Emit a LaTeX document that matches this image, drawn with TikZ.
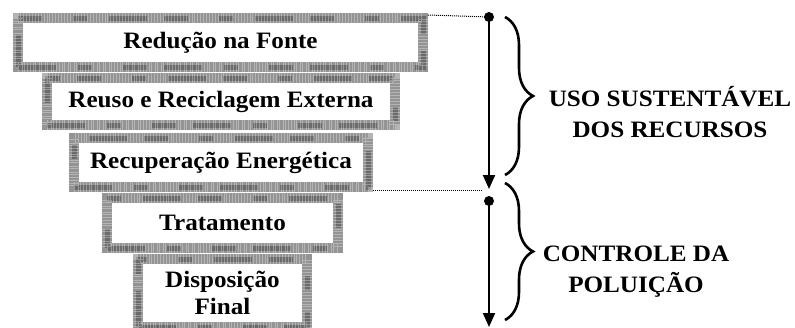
\documentclass[tikz,border=0pt]{standalone}
\usepackage{fontspec}
\setmainfont{Liberation Serif}[FakeStretch=1.07]
\usetikzlibrary{arrows.meta,decorations.pathreplacing}
\begin{document}
\begin{tikzpicture}[x=1pt,y=-1pt,
  tier/.style={draw=black!42, line width=10pt, fill=white, inner sep=0pt,
    font=\fontsize{23.5}{27}\selectfont\bfseries, align=center,
    postaction={draw=black!58, line width=5pt,
      dash pattern=on 38pt off 22pt on 14pt off 31pt on 24pt off 17pt},
    postaction={draw=white, opacity=0.3, line width=10pt,
      dash pattern=on 1pt off 2.5pt on 0.6pt off 1.7pt}},
  dotline/.style={densely dotted, line width=1pt},
  arr/.style={line width=2pt, -{Triangle[length=14pt,width=12pt]}},
  curly/.style={decorate, decoration={brace, amplitude=28pt}, line width=2.6pt},
  lab/.style={font=\fontsize{23.5}{31}\selectfont\bfseries, align=center, inner sep=0pt}]
\useasboundingbox (0,0) rectangle (795,327);
\node[tier, minimum width=405pt, minimum height=49pt] (b1) at (220.5,42.5) {Redução na Fonte};
\node[tier, minimum width=348pt, minimum height=47pt] (b2) at (221,101.5) {Reuso e Reciclagem Externa};
\node[tier, minimum width=294pt, minimum height=49pt] (b3) at (221,162.5) {Recuperação Energética};
\node[tier, minimum width=231pt, minimum height=50pt] (b4) at (222.5,223) {Tratamento};
\node[tier, minimum width=169pt, minimum height=68pt] (b5) at (222.5,293) {Disposição\\Final};
\coordinate (d1) at (489,17);
\coordinate (t1) at (489,189);
\coordinate (e1) at (483,190);
\coordinate (d2) at (489,201);
\coordinate (t2) at (489,327);
\draw[dotline] ([yshift=-2pt]b1.north east) -- (d1);
\draw[dotline] ([yshift=2pt]b3.south east) -- (e1);
\fill (d1) circle (5pt);
\fill (d2) circle (5pt);
\draw[arr] (d1) -- (t1);
\draw[arr] (d2) -- (t2);
\coordinate (c1a) at (505,17);
\coordinate (c1b) at (505,175);
\coordinate (c2a) at (505,183);
\coordinate (c2b) at (505,320);
\draw[curly] (c1a) -- (c1b);
\draw[curly] (c2a) -- (c2b);
\node[lab, anchor=base] (uso) at (670,137) {USO SUSTENTÁVEL\\DOS RECURSOS};
\node[lab, anchor=base] (ctrl) at (636,292) {CONTROLE DA\\POLUIÇÃO};
\end{tikzpicture}
\end{document}
